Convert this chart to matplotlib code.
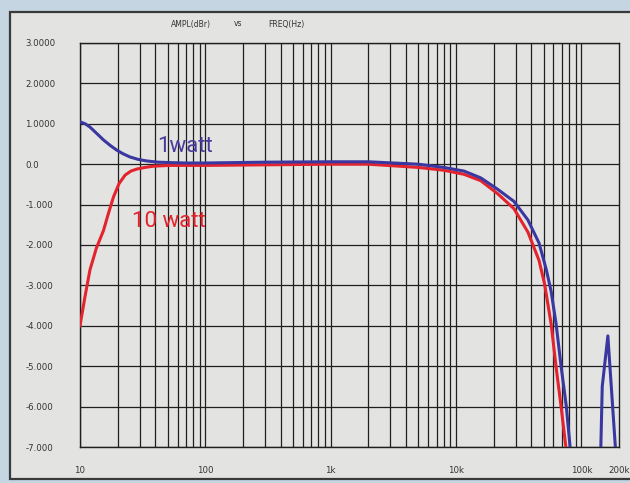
import numpy as np
import matplotlib.pyplot as plt
from matplotlib.patches import Rectangle

# 1 watt (blue) and 10 watt (red) response
freq_1w = [10, 11, 12, 13.5, 15.4, 17.5, 19.6, 22, 25, 29, 34, 42, 52, 70,
           100, 300, 1000, 2000, 5000, 8000, 11600, 15800, 21500, 29000,
           37500, 46000, 52500, 57500, 63000, 69000, 76000, 82000]
ampl_1w = [1.05, 1.0, 0.92, 0.77, 0.60, 0.46, 0.35, 0.26, 0.18, 0.12, 0.08,
           0.05, 0.04, 0.03, 0.03, 0.05, 0.06, 0.06, 0.0, -0.08, -0.17, -0.34,
           -0.62, -0.92, -1.38, -1.95, -2.60, -3.15, -3.96, -5.0, -6.0, -7.1]

freq_10w = [10, 11, 12, 13.5, 15.4, 17, 18.5, 20.5, 22.9, 25.5, 28.4, 33,
            38.4, 52, 100, 1000, 2000, 5000, 8000, 11600, 15800, 21500, 29000,
            37500, 46000, 51000, 57500, 63000, 69000, 76000]
ampl_10w = [-4.0, -3.25, -2.62, -2.08, -1.64, -1.18, -0.81, -0.48, -0.27,
            -0.17, -0.12, -0.08, -0.05, -0.03, -0.03, 0.0, 0.0, -0.08, -0.15,
            -0.25, -0.41, -0.73, -1.10, -1.68, -2.38, -2.97, -3.96, -5.03,
            -6.0, -7.1]

# spike near 160k on the 1 watt trace
freq_spike = [143000, 147000, 163000, 188000]
ampl_spike = [-7.1, -5.5, -4.25, -7.1]

y_ticks = [3, 2, 1, 0, -1, -2, -3, -4, -5, -6, -7]
y_labels = ['3.0000', '2.0000', '1.0000', '0.0', '-1.000', '-2.000', '-3.000',
            '-4.000', '-5.000', '-6.000', '-7.000']
x_ticks = [10, 100, 1000, 10000, 100000, 200000]
x_labels = ['10', '100', '1k', '10k', '100k', '200k']

W, H = 630, 483
fig = plt.figure(figsize=(W / 100, H / 100), dpi=100)
fig.patch.set_facecolor('#c5d5e1')

panel_col = '#e3e4e2'
fig.patches.append(Rectangle((10 / W, 1 - 479 / H), 700 / W, (479 - 12) / H,
                             transform=fig.transFigure, facecolor=panel_col,
                             edgecolor='#3a3a3a', linewidth=1.6, zorder=0))

ax = fig.add_axes([80 / W, 1 - 447 / H, (619 - 80) / W, (447 - 43) / H])
ax.set_zorder(2)
ax.set_facecolor(panel_col)
ax.set_xscale('log')
ax.set_xlim(10, 200000)
ax.set_ylim(-7, 3)

# grid: every integer dB, 1..9 per decade
grid_col = '#1f1f1f'
for y in y_ticks:
    ax.axhline(y, color=grid_col, lw=0.9, zorder=1)
for dec in [10, 100, 1000, 10000]:
    for m in range(1, 10):
        ax.axvline(dec * m, color=grid_col, lw=0.9, zorder=1)
ax.axvline(100000, color=grid_col, lw=0.9, zorder=1)
for s in ax.spines.values():
    s.set_color(grid_col)
    s.set_linewidth(1.0)

ax.plot(freq_10w, ampl_10w, color='#e3232e', lw=2.2, zorder=3)
ax.plot(freq_1w, ampl_1w, color='#3a37a0', lw=2.2, zorder=4)
ax.plot(freq_spike, ampl_spike, color='#3a37a0', lw=2.2, zorder=4)

ax.set_yticks(y_ticks)
ax.set_yticklabels(y_labels, ha='left', fontsize=6.2, color='#333333')
ax.set_xticks(x_ticks)
ax.set_xticklabels(x_labels, fontsize=6.2, color='#333333')
ax.xaxis.set_minor_locator(plt.NullLocator())
ax.tick_params(axis='y', length=0, pad=39.5)
ax.tick_params(axis='x', length=0, pad=14)

fig.text(157 / W, 1 - 152 / H, '1watt', fontsize=16, color='#4a3c9c',
         family='Roboto', va='baseline', ha='left', zorder=5)
fig.text(132 / W, 1 - 227 / H, '10 watt', fontsize=16, color='#e3232e',
         family='Roboto', va='baseline', ha='left', zorder=5)

for txt, xp in [('AMPL(dBr)', 171), ('vs', 234), ('FREQ(Hz)', 268)]:
    fig.text(xp / W, 1 - 24 / H, txt, fontsize=5.5, color='#333333',
             va='center', ha='left')

fig.savefig('out.png', dpi=100, facecolor=fig.get_facecolor())
